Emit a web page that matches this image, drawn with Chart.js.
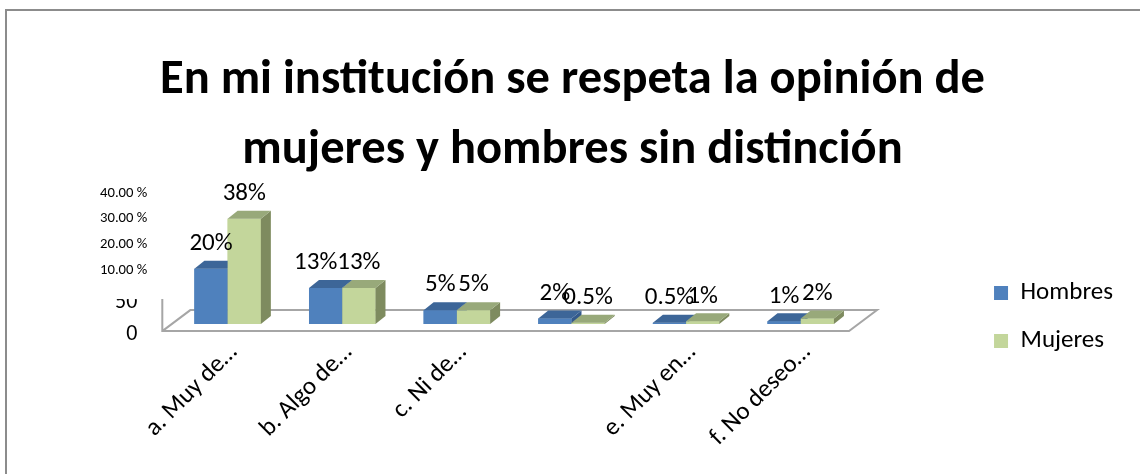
<!DOCTYPE html>
<html lang="es">
<head>
<meta charset="utf-8">
<title>En mi institución se respeta la opinión de mujeres y hombres sin distinción</title>
<script src="https://cdn.jsdelivr.net/npm/chart.js@4.4.1/dist/chart.umd.min.js"></script>
<style>
  html, body { margin: 0; padding: 0; background: #fff; }
  canvas { display: block; }
</style>
</head>
<body>
<canvas id="grafico" width="1140" height="474"></canvas>
<script>
// Datos (porcentajes)
const categorias = ['a. Muy de…', 'b. Algo de…', 'c. Ni de…', '', 'e. Muy en…', 'f. No deseo…'];
const hombres = [20, 13, 5, 2, 0.5, 1];
const mujeres = [38, 13, 5, 0.5, 1, 2];

// Marcas del eje vertical tal como salen en el original (desalineadas)
const ticksEjeY = [-3.6, 7.8, 19.3, 28.7, 38.2, 47.4];
const etiquetasEjeY = ['0  ', '50  ', '10.00 %', '20.00 %', '30.00 %', '40.00 %'];

const FUENTE = 'Carlito, Calibri, Lato, sans-serif';
const PROF_X = 10, PROF_Y = 8;   // profundidad 3D de las columnas
const LEYENDA_DX = 113;          // corrimiento de la leyenda hacia la derecha
const LEYENDA_DY = 84;           // y hacia abajo
const TITULO_DX = 29;            // el título no está centrado sobre el lienzo

// ─── Plugins ───────────────────────────────────────────────

// marco gris del gráfico
const marco = {
  id: 'marco',
  beforeDraw(chart) {
    const ctx = chart.ctx;
    ctx.save();
    ctx.strokeStyle = '#8c8c8c';
    ctx.lineWidth = 2;
    ctx.strokeRect(6, 10, chart.width + 20, chart.height + 20);
    ctx.restore();
  }
};

// piso 3D debajo de las columnas
const piso = {
  id: 'piso',
  beforeDatasetsDraw(chart) {
    const ctx = chart.ctx;
    const ca = chart.chartArea;
    const y0 = chart.scales.y.getPixelForValue(0);
    const frente = y0 + 7, fondo = y0 - 14;
    ctx.save();
    ctx.strokeStyle = '#a6a6a6';
    ctx.lineWidth = 2;
    ctx.beginPath();
    ctx.moveTo(ca.left - 8, y0 - 25);
    ctx.lineTo(ca.left - 8, frente);
    ctx.lineTo(ca.right - 9, frente);
    ctx.lineTo(ca.right + 19, fondo);
    ctx.lineTo(ca.left + 20, fondo);
    ctx.lineTo(ca.left - 8, frente);
    ctx.stroke();
    ctx.restore();
  }
};

// columnas 3D: frente (elemento de Chart.js), tapa y lateral
const columnas3d = {
  id: 'columnas3d',
  afterDatasetsDraw(chart) {
    const ctx = chart.ctx;
    ctx.save();
    chart.data.datasets.forEach((ds, i) => {
      chart.getDatasetMeta(i).data.forEach(bar => {
        const {x, y, base, width} = bar.getProps(['x', 'y', 'base', 'width'], true);
        const l = x - width / 2, r = x + width / 2;
        bar.draw(ctx);
        ctx.fillStyle = ds.colorLado;
        ctx.beginPath();
        ctx.moveTo(r, y);
        ctx.lineTo(r + PROF_X, y - PROF_Y);
        ctx.lineTo(r + PROF_X, base - PROF_Y);
        ctx.lineTo(r, base);
        ctx.closePath();
        ctx.fill();
        ctx.fillStyle = ds.colorTapa;
        ctx.beginPath();
        ctx.moveTo(l, y);
        ctx.lineTo(r, y);
        ctx.lineTo(r + PROF_X, y - PROF_Y);
        ctx.lineTo(l + PROF_X, y - PROF_Y);
        ctx.closePath();
        ctx.fill();
      });
    });

    // etiquetas de valor; si dos iguales se pisan, la primera se corre a la izquierda
    ctx.fillStyle = '#000';
    ctx.font = `25px ${FUENTE}`;
    ctx.textAlign = 'center';
    ctx.textBaseline = 'middle';
    const m0 = chart.getDatasetMeta(0).data, m1 = chart.getDatasetMeta(1).data;
    categorias.forEach((c, j) => {
      const t0 = hombres[j] + '%', t1 = mujeres[j] + '%';
      const p0 = m0[j].getProps(['x', 'y'], true), p1 = m1[j].getProps(['x', 'y'], true);
      let x0 = p0.x;
      if (hombres[j] === mujeres[j]) {
        const solape = (x0 + ctx.measureText(t0).width / 2) - (p1.x - ctx.measureText(t1).width / 2);
        if (solape > 0) x0 -= solape;
      }
      ctx.fillText(t0, x0, p0.y - 25);
      ctx.fillText(t1, p1.x, p1.y - 25);
    });
    ctx.restore();
  },
  // el "50" del eje sale cortado por arriba en el original
  afterDraw(chart) {
    const ys = chart.scales.y;
    const corte = ys.getPixelForValue(0) - 25;
    const ctx = chart.ctx;
    ctx.save();
    ctx.fillStyle = '#fff';
    ctx.fillRect(ys.left, corte - 12, chart.chartArea.left - ys.left - 12, 12);
    ctx.restore();
  }
};

// mover leyenda y título a su sitio
const reubicar = {
  id: 'reubicar',
  afterLayout(chart) {
    const lg = chart.legend;
    lg.left += LEYENDA_DX;
    lg.right += LEYENDA_DX;
    lg.top += LEYENDA_DY;
    lg.bottom += LEYENDA_DY;
    const tb = chart.titleBlock;
    tb.left += TITULO_DX;
    tb.right += TITULO_DX;
  }
};

// ─── Gráfico ───────────────────────────────────────────────

new Chart(document.getElementById('grafico'), {
  type: 'bar',
  data: {
    labels: categorias,
    datasets: [
      {
        label: 'Hombres',
        data: hombres,
        backgroundColor: '#4f81bd',
        colorTapa: '#3d6698',
        colorLado: '#34598a',
        borderWidth: 0
      },
      {
        label: 'Mujeres',
        data: mujeres,
        backgroundColor: '#c3d69b',
        colorTapa: '#98a97a',
        colorLado: '#7e8b5f',
        borderWidth: 0
      }
    ]
  },
  options: {
    responsive: false,
    devicePixelRatio: 1,
    animation: false,
    categoryPercentage: 0.58,
    barPercentage: 1,
    layout: { padding: { left: 77, right: 130, top: 10, bottom: 18 } },
    plugins: {
      title: {
        display: true,
        text: ['En mi institución se respeta la opinión de', 'mujeres y hombres sin distinción'],
        color: '#000',
        font: { family: FUENTE, size: 48.5, weight: 'bold', lineHeight: 1.445 },
        padding: { top: 36, bottom: 5 }
      },
      legend: {
        position: 'right',
        labels: {
          color: '#000',
          boxWidth: 14,
          boxHeight: 14,
          padding: 23,
          font: { family: FUENTE, size: 25 }
        }
      },
      tooltip: { enabled: false }
    },
    scales: {
      x: {
        grid: { display: false, drawTicks: false },
        border: { display: false },
        ticks: {
          color: '#000',
          autoSkip: false,
          minRotation: 45,
          maxRotation: 45,
          padding: 4,
          labelOffset: 6,
          font: { family: FUENTE, size: 25 }
        }
      },
      y: {
        min: -3.6,
        max: 48,
        grid: { display: false, drawTicks: false },
        border: { display: false },
        afterBuildTicks: s => { s.ticks = ticksEjeY.map(v => ({ value: v })); },
        ticks: {
          color: '#000',
          autoSkip: false,
          padding: 23,
          callback: (v, i) => etiquetasEjeY[i],
          font: c => ({ family: FUENTE, size: c.index < 2 ? 22 : 14.7 })
        }
      }
    }
  },
  plugins: [marco, piso, columnas3d, reubicar]
});
</script>
</body>
</html>
